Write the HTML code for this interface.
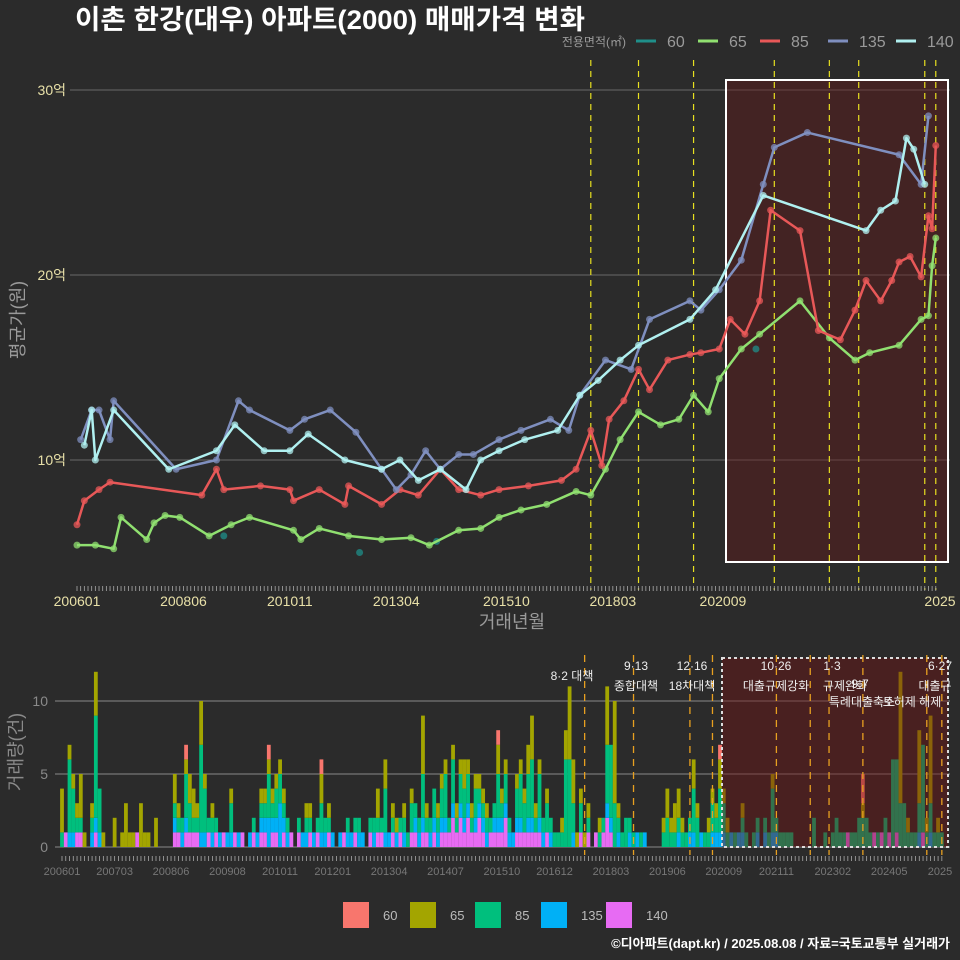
<!DOCTYPE html>
<html><head><meta charset="utf-8"><style>
body{margin:0;background:#2b2b2b}
svg{display:block;font-family:"Liberation Sans","Noto Sans CJK KR",sans-serif}
</style></head><body>
<svg id="c" width="960" height="960" viewBox="0 0 960 960">
<rect x="0" y="0" width="960" height="960" fill="#2b2b2b"/>
<text x="75" y="29" fill="#fff" font-size="27" font-weight="bold" textLength="510" lengthAdjust="spacingAndGlyphs">이촌 한강(대우) 아파트(2000) 매매가격 변화</text>
<g id="top"></g>
<g id="bot"></g>
<text x="950" y="948" text-anchor="end" fill="#fff" font-size="13" font-weight="bold">©디아파트(dapt.kr) / 2025.08.08 / 자료=국토교통부 실거래가</text>
</svg>
<script>
const sizes=['60','65','85','135','140'];
const lineColors=['#1f8f8a','#90e070','#e85858','#7f8fbf','#b0f0f0'];
const barColors=['#f8766d','#a3a500','#00bf7d','#00b0f6','#e76bf3'];
const topTicks=['200601','200806','201011','201304','201510','201803','202009'];
const topTickMonths=[0,29,58,87,117,146,176];
const botTicks=['200601','200703','200806','200908','201011','201201','201304','201407','201510','201612','201803','201906','202009','202111','202302','202405'];
const botTickMonths=[0,14,29,44,58,72,87,102,117,131,146,161,176,190,205,220];
const yTicks=[10,20,30];
const yTickLabels=['10억','20억','30억'];
const m60=[40,77,98,185];
const v60=[5.9,5.0,5.6,16.0];
const m65=[0,5,10,12,19,21,24,28,36,42,47,59,61,66,74,83,91,96,104,110,115,121,128,136,140,144,148,153,159,164,168,172,175,181,186,197,205,212,216,224,230,232,233,234];
const v65=[5.4,5.4,5.2,6.9,5.7,6.6,7.0,6.9,5.9,6.5,6.9,6.2,5.7,6.3,5.9,5.7,5.8,5.4,6.2,6.3,6.9,7.3,7.6,8.3,8.1,9.5,11.1,12.6,11.9,12.2,13.5,12.6,14.4,16.0,16.8,18.6,16.6,15.4,15.8,16.2,17.6,17.8,20.5,22.0];
const m85=[0,2,6,9,34,38,40,50,58,59,66,73,74,83,88,93,99,104,110,115,123,132,136,140,143,145,149,153,156,161,167,170,175,178,182,186,189,197,202,208,212,215,219,222,224,227,230,232,233,234];
const v85=[6.5,7.8,8.4,8.8,8.1,9.5,8.4,8.6,8.4,7.8,8.4,7.6,8.6,7.6,8.4,8.1,9.5,8.4,8.1,8.4,8.6,8.9,9.5,11.6,9.7,12.2,13.2,14.9,13.8,15.4,15.7,15.8,16.0,17.6,16.8,18.6,23.5,22.4,17.0,16.5,18.1,19.7,18.6,19.7,20.7,21.0,19.9,23.2,22.5,27.0];
const m135=[1,4,6,9,10,27,38,44,47,58,62,69,76,83,87,91,95,99,104,108,115,121,129,134,137,144,151,156,167,170,175,181,187,190,199,224,230,232];
const v135=[11.1,12.7,12.7,11.1,13.2,9.5,10.0,13.2,12.7,11.6,12.2,12.7,11.5,9.5,8.4,9.2,10.5,9.5,10.3,10.3,11.1,11.6,12.2,11.6,13.5,15.4,14.9,17.6,18.6,18.1,19.2,20.8,24.9,26.9,27.7,26.5,24.9,28.6];
const m140=[2,4,5,10,25,38,43,51,58,63,73,83,88,93,99,106,110,115,122,131,137,142,148,153,167,174,187,215,219,223,226,228,231];
const v140=[10.8,12.7,10.0,12.7,9.5,10.5,11.9,10.5,10.5,11.4,10.0,9.5,10.0,8.9,9.5,8.4,10.0,10.5,11.1,11.6,13.5,14.3,15.4,16.2,17.6,19.2,24.3,22.4,23.5,24.0,27.4,26.8,24.9];
const c140=[0,1,0,0,1,1,0,0,0,1,0,0, 0,0,0,0,0,0,0,0,1,0,0,0, 0,0,0,0,0,0,1,1,0,1,1,1, 1,0,0,1,0,1,0,1,0,0,1,0, 1,0,0,1,0,1,1,0,1,1,0,1, 0,1,0,1,0,0,1,0,1,0,0,1, 0,0,0,1,0,0,1,0,0,0,1,0, 1,1,0,0,1,0,1,0,0,1,1,0, 1,1,0,1,0,1,1,1,2,1,2,1, 2,1,1,2,1,0,1,1,1,1,2,0, 0,1,1,1,1,1,1,1,0,1,0,0, 0,0,0,0,0,0,1,0,1,0,1,0, 1,2,1,0,0,0,0,0,0,0,0,0, 0,0,0,0,0,0,0,0,0,0,0,0, 0,0,0,0,0,0,0,0,0,0,0,0, 0,0,0,0,0,0,0,0,0,0,0,0, 0,0,0,0,0,0,0,0,0,0,0,0, 0,0,0,0,0,1,0,0,0,0,0,0, 1,0,1,0,1,0,1,0,0,0,0,0, 0,1,0,0,0,0,0];
const c135=[0,0,1,1,0,0,0,0,1,1,1,0, 0,0,0,0,0,0,0,0,0,0,0,0, 0,0,0,0,0,0,1,0,1,1,0,0, 0,1,1,0,1,0,1,0,1,1,0,1, 0,0,1,0,1,1,1,2,1,1,3,1, 1,0,0,0,1,1,0,1,0,1,1,0, 1,0,1,0,1,1,0,1,1,0,0,1, 0,0,1,1,0,1,0,1,0,0,1,1, 1,0,1,1,1,1,1,0,1,0,1,1, 1,0,1,1,1,1,0,1,1,1,1,1, 1,1,1,0,1,1,0,1,1,0,1,0, 0,0,0,0,1,0,0,0,0,0,0,0, 0,1,1,0,1,0,0,1,0,1,0,1, 0,0,0,0,0,0,0,0,1,0,0,1, 1,0,1,0,0,1,1,1,1,0,1,0, 1,1,0,0,0,1,0,1,0,1,1,0, 0,0,0,0,0,0,0,0,0,0,0,0, 0,0,0,0,0,0,0,0,0,0,0,0, 0,0,0,0,0,0,0,0,0,0,0,0, 1,0,0,1,0,0,0];
const c85=[1,0,5,3,1,1,0,0,1,7,3,0, 0,0,0,0,0,0,0,0,0,0,0,0, 0,0,0,0,0,0,1,1,1,3,2,1, 1,6,3,1,1,1,0,0,0,2,0,0, 0,0,0,1,0,1,1,3,1,2,2,1, 1,0,0,1,0,1,1,0,1,2,1,1, 0,0,0,0,1,0,1,1,0,0,1,1, 1,1,3,0,1,0,1,1,1,2,1,1, 3,1,1,2,1,2,3,1,3,1,2,2, 2,1,2,1,1,1,1,1,3,1,2,1, 0,2,3,2,3,4,1,3,1,2,1,1, 1,1,6,6,2,0,2,0,1,0,0,1, 1,4,5,3,1,1,2,1,1,0,1,0, 0,0,0,0,1,2,1,1,1,1,1,1, 3,2,0,1,1,2,1,3,2,1,0,1, 0,1,1,0,1,1,0,1,1,3,1,1, 1,1,1,0,0,0,0,0,2,0,0,1, 0,1,2,1,1,0,1,1,2,2,2,1, 0,1,0,2,0,6,5,3,3,1,1,1, 2,6,1,2,1,1,1];
const c65=[3,0,1,1,1,3,1,0,1,3,0,1, 0,0,2,0,1,3,1,1,0,3,1,1, 0,2,0,0,0,0,2,1,0,1,2,2, 1,3,1,0,1,0,0,0,0,1,0,0, 0,0,0,0,0,1,1,1,1,1,1,1, 0,0,0,0,0,1,1,0,0,2,0,1, 0,0,0,0,0,0,0,0,0,0,0,0, 2,0,2,0,1,1,0,1,0,1,0,0, 4,1,0,0,1,1,1,0,1,1,1,2, 1,1,1,1,1,1,0,0,2,1,1,0, 0,1,1,1,2,3,1,1,0,1,0,0, 0,1,2,5,3,1,1,1,1,0,0,1, 0,4,0,7,1,0,0,0,0,0,0,0, 0,0,0,0,1,2,1,2,2,1,0,0, 2,1,0,0,1,1,1,2,1,1,0,0, 0,1,0,0,0,0,0,0,0,1,0,0, 0,0,0,0,0,0,0,0,0,0,0,0, 0,0,0,0,0,0,0,0,0,1,0,0, 0,0,0,0,0,0,0,9,0,1,0,0, 5,0,1,6,0,1,0];
const c60=[0,0,0,0,0,0,0,0,0,0,0,0, 0,0,0,0,0,0,0,0,0,0,0,0, 0,0,0,0,0,0,0,0,0,1,0,0, 0,0,0,0,0,0,0,0,0,0,0,0, 0,0,0,0,0,0,0,1,0,0,0,0, 0,0,0,0,0,0,0,0,0,1,0,0, 0,0,0,0,0,0,0,0,0,0,0,0, 0,0,0,0,0,0,0,0,0,0,0,0, 0,0,0,0,0,0,0,0,0,0,0,0, 0,0,0,0,0,0,0,0,1,0,0,0, 0,0,0,0,0,0,0,0,0,0,0,0, 0,0,0,0,0,0,0,0,0,0,0,0, 0,0,0,0,0,0,0,0,0,0,0,0, 0,0,0,0,0,0,0,0,0,0,0,0, 0,0,0,0,0,0,0,1,0,0,0,0, 0,0,0,0,0,0,0,0,0,0,0,0, 0,0,0,0,0,0,0,0,0,0,0,0, 0,0,0,0,0,0,0,0,0,2,0,0, 0,0,0,0,0,0,0,0,0,0,0,0, 0,0,0,0,0,0,0];
const topPolicyMonths=[140,153,168,190,205,213,231,234];
const botPolicyMonths=[139,152,167,173,190,199,204,213,230,234];
const policyLabels=[['8·2 대책',572,680],['9·13',636,670],['종합대책',636,690],['12·16',692,670],['18차대책',692,690],['10·26',776,670],['대출규제강화',776,690],['1·3',832,670],['규제완화',845,690],['9·7',860,688],['특례대출축소',862,706],['토허제 해제',912,706],['6·27',940,670],['대출규',935,690]];

const NS='http://www.w3.org/2000/svg';
function mk(p,tag,at,txt){const e=document.createElementNS(NS,tag);for(const k in at)e.setAttribute(k,at[k]);if(txt!==undefined)e.textContent=txt;p.appendChild(e);return e;}
const tx=m=>77+3.67*m, ty=v=>460-18.5*(v-10);
const bx=m=>62+3.76*m, by=v=>847-14.6*v;
const T=document.getElementById('top'), B=document.getElementById('bot');

yTicks.forEach((v,i)=>{
 const g=mk(T,'line',{x1:70,x2:950,y1:ty(v),y2:ty(v),stroke:'#6a6a6a','stroke-width':1});
 
 const t=mk(T,'text',{x:66,y:ty(v)+5,'text-anchor':'end',fill:'#e8e0a8','font-size':14},yTickLabels[i]);
 
});
const ov=mk(T,'rect',{x:726,y:80,width:222,height:482,fill:'rgba(100,25,25,0.42)',stroke:'#fff','stroke-width':2});

topPolicyMonths.forEach(m=>{const l=mk(T,'line',{x1:tx(m),x2:tx(m),y1:60,y2:590,stroke:'#e8e020','stroke-width':1.2,'stroke-dasharray':'6,5'});
 });
const S=[[m60,v60],[m65,v65],[m85,v85],[m135,v135],[m140,v140]];
S.forEach((s,i)=>{
 const [ms,vs]=s;
 if(i>0){const pl=mk(T,'polyline',{points:ms.map((m,j)=>tx(m)+','+ty(vs[j])).join(' '),fill:'none',stroke:lineColors[i],'stroke-width':2.5,'stroke-linejoin':'round'});
  }
 ms.forEach((m,j)=>{const c=mk(T,'circle',{cx:tx(m),cy:ty(vs[j]),r:3.5,fill:lineColors[i],opacity:0.75});
  });
});
for(let m=0;m<=234;m++){const l=mk(T,'line',{x1:tx(m),x2:tx(m),y1:586,y2:591,stroke:'#aaa','stroke-width':0.8});}
topTicks.forEach((s,i)=>{const t=mk(T,'text',{x:tx(topTickMonths[i]),y:606,'text-anchor':'middle',fill:'#e8e0a8','font-size':14},s);});
let t2=mk(T,'text',{x:940,y:606,'text-anchor':'middle',fill:'#e8e0a8','font-size':14},'2025');
let at=mk(T,'text',{x:512,y:628,'text-anchor':'middle',fill:'#9a9a9a','font-size':18},'거래년월');
let yt=mk(T,'text',{x:0,y:0,transform:'translate(24,320) rotate(-90)','text-anchor':'middle',fill:'#9a9a9a','font-size':18},'평균가(원)');
let lt=mk(T,'text',{x:626,y:46,'text-anchor':'end',fill:'#9a9a9a','font-size':12},'전용면적(㎡)');
const lx=[636,698,760,828,896];
sizes.forEach((s,i)=>{const l=mk(T,'line',{x1:lx[i],x2:lx[i]+20,y1:41,y2:41,stroke:lineColors[i],'stroke-width':3});
 const t=mk(T,'text',{x:lx[i]+31,y:47,fill:'#9a9a9a','font-size':16},s);});

[0,5,10].forEach(v=>{const g=mk(B,'line',{x1:55,x2:950,y1:by(v),y2:by(v),stroke:'#6a6a6a','stroke-width':1.5});
 const t=mk(B,'text',{x:48,y:by(v)+5,'text-anchor':'end',fill:'#8a8a8a','font-size':14},String(v));});
const stackOrder=[4,3,2,1,0], stackData=[c60,c65,c85,c135,c140];
for(let m=0;m<c85.length;m++){let acc=0;
 stackOrder.forEach(k=>{const v=stackData[k][m];if(!v)return;
  const r=mk(B,'rect',{x:bx(m)-1.9,y:by(acc+v),width:3.8,height:by(acc)-by(acc+v),fill:barColors[k]});
  acc+=v;});}
const ov2=mk(B,'rect',{x:722,y:658,width:226,height:189,fill:'rgba(110,20,20,0.45)',stroke:'#ddd','stroke-width':2,'stroke-dasharray':'3,3'});

botPolicyMonths.forEach(m=>{const l=mk(B,'line',{x1:bx(m),x2:bx(m),y1:655,y2:855,stroke:'#e8a020','stroke-width':1.3,'stroke-dasharray':'7,6'});});
policyLabels.forEach(p=>{const t=mk(B,'text',{x:p[1],y:p[2],'text-anchor':'middle',fill:'#eee','font-size':12},p[0]);});
for(let m=0;m<=234;m++){const l=mk(B,'line',{x1:bx(m),x2:bx(m),y1:856,y2:861,stroke:'#aaa','stroke-width':0.8});}
botTicks.forEach((s,i)=>{const t=mk(B,'text',{x:bx(botTickMonths[i]),y:875,'text-anchor':'middle',fill:'#777','font-size':11},s);});
let t3=mk(B,'text',{x:940,y:875,'text-anchor':'middle',fill:'#777','font-size':11},'2025');
let yt2=mk(B,'text',{x:0,y:0,transform:'translate(22,752) rotate(-90)','text-anchor':'middle',fill:'#8a8a8a','font-size':18},'거래량(건)');
const blx=[343,410,475,541,606];
sizes.forEach((s,i)=>{const r=mk(B,'rect',{x:blx[i],y:902,width:26,height:26,fill:barColors[i]});
 const t=mk(B,'text',{x:blx[i]+40,y:920,fill:'#bbb','font-size':13},s);});
</script>
</body></html>
